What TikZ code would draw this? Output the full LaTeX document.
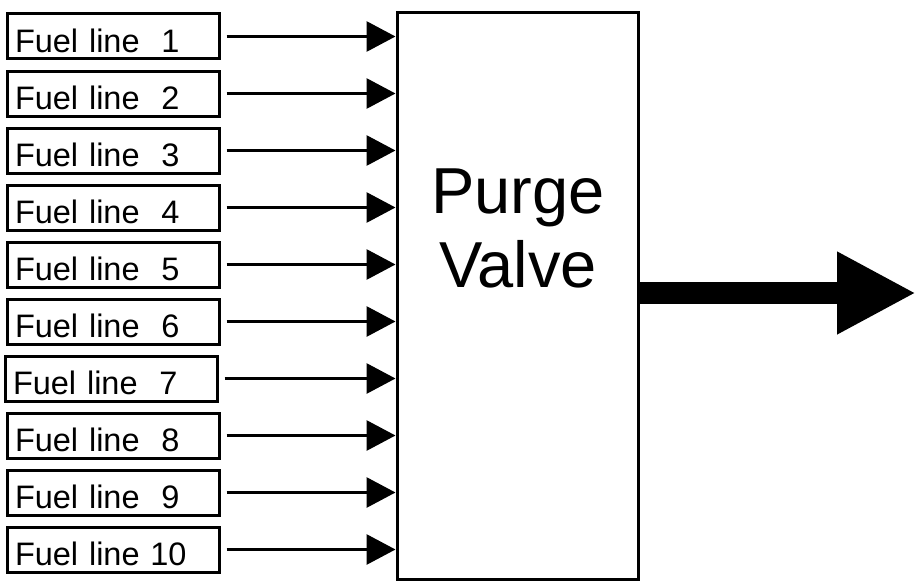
\documentclass[tikz,border=0pt]{standalone}
\usepackage{fontspec}
\setmainfont{Liberation Sans}
\usetikzlibrary{arrows.meta}
\tikzset{
  fuelbox/.style={draw, line width=3pt, minimum width=212pt, minimum height=45pt,
    inner xsep=8pt, inner ysep=0pt, text width=196pt, align=left,
    text height=32pt, text depth=0pt, font=\fontsize{32.5}{36}\selectfont},
  valvebox/.style={draw, line width=3pt, minimum width=241pt, minimum height=566pt, inner sep=0pt},
  valvetext/.style={anchor=base, inner sep=0pt, font=\fontsize{65}{74}\selectfont},
  fuelarrow/.style={line width=3pt, -{Triangle[length=29pt,width=30pt]}, shorten <=6pt},
  outarrow/.style={line width=22pt, -{Triangle[length=79pt,width=77pt]}}
}
\begin{document}
\begin{tikzpicture}[x=1pt,y=-1pt]
\useasboundingbox (0,0) rectangle (920,586);
\node[valvebox] (pv) at (517.5,296) {};
\node[valvetext] (t1) at (518,213) {Purge};
\node[valvetext] (t2) at (518,287) {Valve};
\foreach \i/\lab/\cx in {1/{Fuel line\ \ 1}/113, 2/{Fuel line\ \ 2}/113, 3/{Fuel line\ \ 3}/113,
  4/{Fuel line\ \ 4}/113, 5/{Fuel line\ \ 5}/113, 6/{Fuel line\ \ 6}/113,
  7/{Fuel line\ \ 7}/111, 8/{Fuel line\ \ 8}/113, 9/{Fuel line\ \ 9}/113, 10/{Fuel line 10}/113}{
  \node[fuelbox] (f\i) at (\cx,{36.5+57*(\i-1)}) {\lab};
  \draw[fuelarrow] (f\i.east) -- (f\i.east -| pv.west);
}
\coordinate (bigtip) at (916,293);
\draw[outarrow] (pv.east |- bigtip) -- (bigtip);
\end{tikzpicture}
\end{document}
